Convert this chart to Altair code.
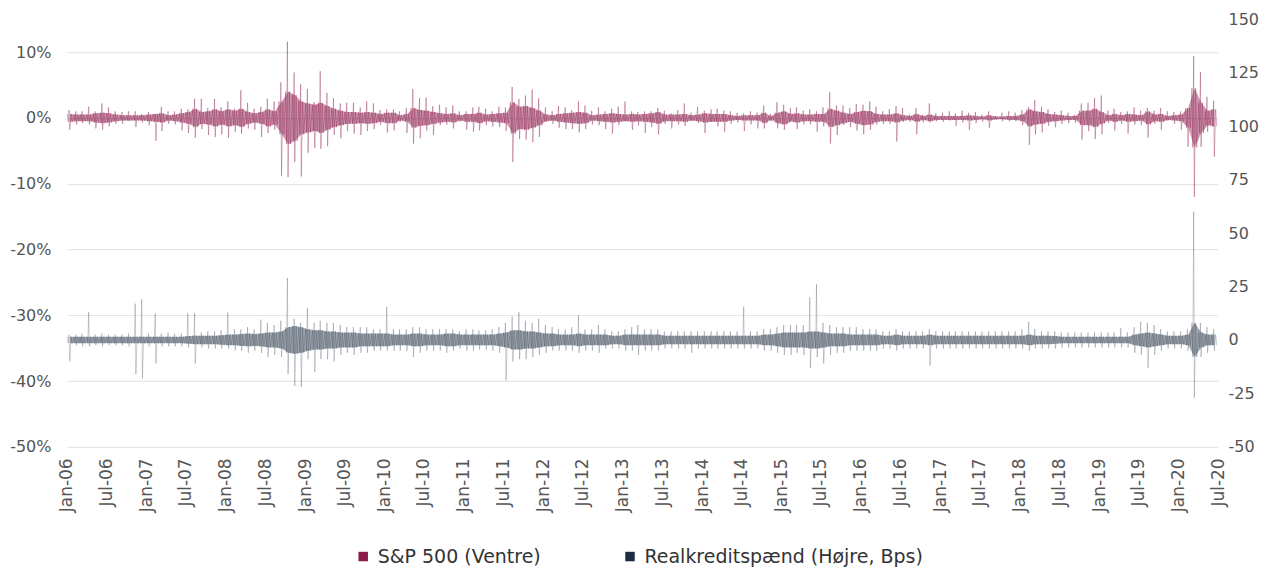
import altair as alt
import pandas as pd

# ---------------- data (monthly) ----------------
months = pd.date_range("2006-01-01", periods=174, freq="MS")  # Jan-06 .. Jun-20

# S&P 500 daily return, %: monthly highest, lowest and typical band amplitude
sp_hi = [
    1.2, 1.0, 1.0, 1.7, 1.0, 2.2, 1.6, 1.0, 0.9, 1.0, 1.0, 0.6,   # 2006
    0.9, 0.6, 1.7, 1.0, 1.0, 1.4, 1.3, 2.9, 2.9, 1.5, 2.9, 1.6,   # 2007
    2.5, 1.4, 4.2, 2.3, 1.4, 1.7, 2.9, 2.5, 5.4, 11.6, 6.9, 5.1,  # 2008
    4.4, 2.4, 7.1, 3.8, 3.0, 2.2, 2.3, 2.3, 1.6, 2.5, 2.2, 1.2,   # 2009
    1.3, 1.3, 1.0, 1.5, 4.4, 3.0, 3.1, 1.8, 2.0, 1.6, 1.9, 1.0,   # 2010
    1.0, 1.6, 1.7, 1.4, 1.0, 1.7, 1.6, 4.7, 2.9, 3.4, 4.3, 3.0,   # 2011
    1.6, 1.0, 1.8, 1.6, 1.2, 2.5, 1.9, 1.1, 1.6, 1.0, 1.4, 1.7,   # 2012
    2.5, 1.0, 0.9, 1.0, 1.0, 1.5, 1.1, 0.7, 1.2, 2.2, 0.8, 1.7,   # 2013
    1.1, 1.3, 1.4, 1.1, 1.0, 0.8, 0.7, 1.0, 0.8, 1.9, 0.6, 2.4,   # 2014
    2.0, 1.5, 1.6, 1.1, 1.3, 1.0, 1.6, 3.9, 1.9, 1.9, 1.5, 2.1,   # 2015
    2.0, 2.5, 1.7, 1.0, 1.3, 1.8, 1.5, 0.5, 1.5, 0.5, 2.2, 0.7,   # 2016
    0.8, 1.0, 0.7, 1.1, 0.8, 0.9, 0.5, 1.0, 0.3, 0.8, 1.0, 0.8,   # 2017
    1.2, 1.7, 2.7, 1.7, 1.3, 0.9, 1.1, 0.8, 0.5, 2.2, 2.3, 3.0,   # 2018
    3.4, 1.1, 1.4, 0.9, 1.0, 1.6, 1.1, 1.5, 1.1, 1.5, 1.0, 0.9,   # 2019
    1.0, 1.5, 9.4, 7.0, 3.2, 2.6,                                 # 2020
]
sp_lo = [
    -1.8, -1.0, -0.8, -1.0, -1.6, -1.8, -1.3, -0.9, -0.9, -0.5, -1.4, -0.7,
    -1.1, -3.5, -2.0, -0.9, -1.0, -1.9, -2.3, -3.0, -1.7, -2.6, -2.9, -2.5,
    -3.0, -2.1, -2.4, -1.6, -1.8, -2.9, -2.3, -1.8, -8.8, -9.0, -6.7, -8.9,
    -5.3, -4.6, -4.7, -4.3, -2.6, -3.1, -2.0, -2.4, -2.6, -2.0, -1.7, -1.0,
    -2.2, -1.9, -0.6, -2.3, -3.9, -3.1, -1.9, -2.6, -1.1, -1.0, -1.6, -0.6,
    -1.8, -2.1, -1.9, -1.1, -1.3, -1.4, -2.0, -6.7, -3.2, -3.3, -3.7, -2.9,
    -0.6, -0.9, -1.5, -1.7, -1.7, -2.2, -1.7, -1.0, -1.1, -1.7, -2.4, -1.1,
    -0.5, -1.8, -1.1, -2.3, -1.4, -2.5, -0.9, -1.6, -1.0, -1.2, -0.5, -0.8,
    -2.3, -0.6, -1.3, -2.1, -0.9, -0.7, -2.0, -1.0, -1.6, -1.6, -0.5, -1.6,
    -1.8, -0.4, -1.7, -1.0, -1.0, -2.1, -1.3, -3.9, -2.6, -1.1, -1.4, -1.9,
    -2.5, -1.8, -1.0, -0.9, -0.9, -3.6, -0.6, -0.6, -2.5, -0.7, -0.7, -0.5,
    -0.6, -0.4, -1.2, -0.7, -1.8, -0.8, -0.6, -1.5, -0.3, -0.5, -0.5, -0.5,
    -1.1, -4.1, -2.5, -2.2, -1.2, -1.4, -0.9, -0.8, -0.7, -3.3, -2.0, -3.2,
    -2.5, -0.8, -1.9, -0.9, -2.4, -1.0, -1.1, -3.0, -0.9, -1.8, -0.4, -0.9,
    -1.8, -4.4, -12.0, -4.4, -2.1, -5.9,
]
sp_core = [
    0.6, 0.5, 0.5, 0.5, 0.7, 0.8, 0.7, 0.5, 0.4, 0.4, 0.4, 0.4,
    0.5, 0.6, 0.7, 0.4, 0.5, 0.7, 0.9, 1.4, 0.9, 1.0, 1.3, 1.0,
    1.3, 1.1, 1.4, 0.9, 0.7, 0.9, 1.3, 1.0, 2.5, 4.0, 3.5, 2.5,
    2.2, 2.0, 2.3, 1.8, 1.4, 1.1, 0.9, 0.9, 0.8, 0.9, 0.8, 0.6,
    0.8, 0.8, 0.4, 0.6, 1.5, 1.2, 1.1, 0.9, 0.7, 0.6, 0.7, 0.4,
    0.6, 0.6, 0.8, 0.5, 0.6, 0.7, 0.8, 2.4, 1.7, 1.8, 1.5, 1.1,
    0.5, 0.4, 0.6, 0.7, 0.8, 0.9, 0.8, 0.4, 0.5, 0.6, 0.7, 0.6,
    0.5, 0.6, 0.5, 0.6, 0.7, 0.9, 0.5, 0.5, 0.5, 0.6, 0.4, 0.5,
    0.7, 0.6, 0.6, 0.6, 0.4, 0.3, 0.4, 0.4, 0.4, 0.8, 0.3, 0.8,
    1.0, 0.6, 0.7, 0.5, 0.5, 0.6, 0.6, 1.4, 1.1, 0.8, 0.6, 0.9,
    1.1, 1.0, 0.6, 0.5, 0.5, 0.7, 0.4, 0.3, 0.6, 0.3, 0.5, 0.3,
    0.3, 0.3, 0.3, 0.3, 0.4, 0.3, 0.2, 0.4, 0.2, 0.2, 0.3, 0.3,
    0.5, 1.3, 1.0, 0.9, 0.6, 0.5, 0.4, 0.3, 0.3, 1.1, 1.1, 1.4,
    0.9, 0.4, 0.6, 0.4, 0.6, 0.5, 0.4, 1.0, 0.5, 0.6, 0.3, 0.4,
    0.5, 1.5, 4.5, 2.3, 1.1, 1.3,
]

# Realkreditspaend daily change, bps: monthly highest, lowest and typical band
rk_hi = [
    2.5, 2.5, 3, 13, 2.5, 3, 2.5, 2.5, 2.5, 3, 17, 19,
    3, 12.5, 3, 3.5, 3, 3, 12.5, 12.5, 3.5, 4, 4, 4.5,
    12.8, 5, 5, 6, 5, 9.5, 8, 7, 9, 29, 10, 8,
    15, 8, 9, 8, 8, 7, 6, 6, 6, 6, 5, 5,
    15.5, 5, 5, 5, 6, 6, 5, 5, 5, 5, 5, 4,
    5, 5, 4.5, 4.5, 5, 6, 8, 11, 13, 9, 8, 10,
    7, 6, 5, 5, 6, 11.5, 5, 5, 7, 5, 4, 4,
    5, 6, 7, 5, 5, 5, 4, 4, 4, 4, 4, 4,
    4, 4, 4, 4, 4, 4, 15.5, 4, 4, 5, 5, 6,
    7, 7, 7, 7, 20, 26, 8, 7, 6, 6, 6, 6,
    5, 5, 5, 4, 4, 5, 4, 4, 4, 4, 5, 4,
    4, 4, 4, 4, 4, 4, 4, 4, 4, 4, 4, 4,
    5, 8.5, 5, 4, 4, 4, 3.5, 3.5, 3.5, 3.5, 3.5, 3.5,
    3.5, 3.5, 3.5, 5.5, 3.5, 6, 8.5, 8, 7, 5, 4, 4,
    4, 5, 60, 8, 6, 5,
]
rk_lo = [
    -10, -2.5, -3, -3, -2.5, -3, -2.5, -2.5, -2.5, -3, -16, -18,
    -3, -11, -3, -3, -3, -3, -3.5, -11, -3.5, -4, -4, -4,
    -4, -5, -5, -6, -5, -6, -8, -7, -8, -16, -21.5, -22,
    -9, -15, -9, -9, -10, -7, -6, -7, -6, -6, -5, -5,
    -5, -5, -5, -5, -8, -6, -5, -5, -5, -6, -5, -4,
    -5, -5, -4.5, -4.5, -5, -6, -19, -10, -9, -9, -8, -7,
    -6, -5, -5, -5, -5, -6, -5, -5, -6, -4, -4, -4,
    -5, -5, -7, -5, -5, -5, -4, -4, -4, -4, -6, -4,
    -4, -4, -4, -4, -4, -4, -4, -4, -4, -5, -5, -6,
    -7, -7, -6, -7, -13, -8, -11, -7, -6, -6, -5, -5,
    -5, -5, -5, -4, -4, -5, -4, -4, -4, -4, -12, -4,
    -4, -4, -4, -4, -4, -4, -4, -4, -4, -4, -4, -4,
    -4, -5, -4, -4, -4, -4, -3.5, -3.5, -3.5, -3.5, -3.5, -3.5,
    -3.5, -3.5, -3.5, -3.5, -3.5, -6, -7, -13, -7, -5, -4, -4,
    -4, -5, -27, -8, -6, -5,
]
rk_core = [
    1.5, 1.5, 1.5, 1.5, 1.5, 1.5, 1.5, 1.5, 1.5, 1.5, 1.5, 1.5,
    1.5, 1.5, 1.5, 1.5, 1.5, 1.5, 1.8, 2, 2, 2, 2, 2.2,
    2.5, 2.5, 2.8, 3, 2.8, 3, 3.5, 3.5, 4, 6, 6.5, 6,
    5, 4.5, 4.5, 4, 4, 3.5, 3.5, 3.5, 3, 3, 3, 3,
    3, 2.5, 2.5, 2.5, 3, 3, 2.5, 2.5, 2.5, 3, 3, 2.5,
    2.5, 2.5, 2.5, 2.5, 2.5, 3, 3.5, 4.5, 4.5, 4, 4, 3.5,
    3, 3, 2.5, 2.5, 2.5, 3, 2.5, 2.5, 2.5, 2.5, 2, 2,
    2.5, 2.5, 2.5, 2.5, 2.5, 2.5, 2, 2, 2, 2, 2, 2,
    2, 2, 2, 2, 2, 2, 2, 2, 2, 2.5, 2.5, 3,
    3.5, 3.5, 3.5, 3.5, 4, 4, 3.5, 3, 3, 3, 2.5, 2.5,
    2.5, 2.5, 2.5, 2, 2, 2.5, 2, 2, 2, 2, 2.5, 2,
    2, 2, 2, 2, 2, 2, 2, 2, 2, 2, 2, 2,
    2, 2.5, 2, 2, 2, 1.8, 1.5, 1.5, 1.5, 1.5, 1.5, 1.5,
    1.5, 1.5, 1.5, 1.5, 1.5, 2.5, 3, 3.5, 3, 2.5, 2, 2,
    2, 2.5, 8, 3.5, 2.5, 2.5,
]

SP_NAME = "S&P 500 (Ventre)"
RK_NAME = "Realkreditspænd (Højre, Bps)"
SP_COL = "#8b1a4b"
RK_COL = "#1c2b3f"

# ---------------- build tables ----------------
day_offsets = [2, 6, 10, 13, 19, 24]


def line_rows(hi, lo, core, scale):
    rows = []
    for i, m in enumerate(months):
        vals = [core[i], -core[i], hi[i], lo[i], core[i], -core[i]]
        for d, v in zip(day_offsets, vals):
            rows.append({"date": (m + pd.Timedelta(days=d)).strftime("%Y-%m-%d"), "v": v * scale})
    return pd.DataFrame(rows)


def band_rows(core, scale, name):
    rows = []
    for i, m in enumerate(months):
        rows.append({"date": (m + pd.Timedelta(days=14)).strftime("%Y-%m-%d"),
                     "lo": -core[i] * scale, "hi": core[i] * scale, "series": name})
    return pd.DataFrame(rows)


sp_line_df = line_rows(sp_hi, sp_lo, sp_core, 0.01)
rk_line_df = line_rows(rk_hi, rk_lo, rk_core, 1.0)
sp_band_df = band_rows(sp_core, 0.01, SP_NAME)
rk_band_df = band_rows(rk_core, 1.0, RK_NAME)

FONT = "DejaVu Sans"

x_enc = alt.X(
    "date:T",
    title=None,
    scale=alt.Scale(domain=[alt.DateTime(year=2006, month=1, date=1),
                            alt.DateTime(year=2020, month=7, date=1)]),
    axis=alt.Axis(
        format="%b-%y",
        tickCount=alt.TimeIntervalStep(interval="month", step=6),
        labelAngle=-90,
        labelAlign="right",
        labelBaseline="middle",
        labelPadding=11,
        labelFontSize=17,
        labelOverlap=False,
        labelFlush=False,
        grid=False,
        ticks=False,
        domain=False,
    ),
)

left_axis = alt.Axis(
    orient="left",
    values=[-0.5, -0.4, -0.3, -0.2, -0.1, 0, 0.1],
    format=".0%",
    labelExpr="replace(datum.label, '\u2212', '-')",
    grid=True,
    gridColor="#e6e6e6",
    gridWidth=1.2,
    ticks=False,
    domain=False,
    labelPadding=16,
)
right_axis = alt.Axis(
    orient="right",
    values=[-50, -25, 0, 25, 50, 75, 100, 125, 150],
    labelExpr="replace(datum.label, '\u2212', '-')",
    grid=False,
    ticks=False,
    domain=False,
    labelPadding=10,
)

color_enc = alt.Color(
    "series:N",
    scale=alt.Scale(domain=[SP_NAME, RK_NAME], range=[SP_COL, RK_COL]),
    legend=alt.Legend(
        orient="none",
        legendX=287,
        legendY=528,
        direction="horizontal",
        title=None,
        symbolType="square",
        symbolSize=90,
        symbolOpacity=1,
        symbolStrokeWidth=0,
        labelFontSize=19,
        labelColor="#333333",
        labelFont=FONT,
        labelLimit=0,
        labelOffset=5,
        columnPadding=79,
    ),
)

sp_scale = alt.Scale(domain=[-0.5, 0.15], nice=False, zero=False)
rk_scale = alt.Scale(domain=[-50, 150], nice=False, zero=False)

sp_band = alt.Chart(sp_band_df).mark_area(opacity=0.45).encode(
    x=x_enc,
    y=alt.Y("lo:Q", scale=sp_scale, axis=left_axis, title=None),
    y2="hi:Q",
    color=color_enc,
)
sp_line = alt.Chart(sp_line_df).mark_line(color=SP_COL, strokeWidth=0.9, opacity=0.4).encode(
    x=x_enc,
    y=alt.Y("v:Q", scale=sp_scale, axis=left_axis, title=None),
)
rk_band = alt.Chart(rk_band_df).mark_area(opacity=0.42).encode(
    x=x_enc,
    y=alt.Y("lo:Q", scale=rk_scale, axis=right_axis, title=None),
    y2="hi:Q",
    color=color_enc,
)
rk_line = alt.Chart(rk_line_df).mark_line(color=RK_COL, strokeWidth=0.9, opacity=0.26).encode(
    x=x_enc,
    y=alt.Y("v:Q", scale=rk_scale, axis=right_axis, title=None),
)

sp_layer = alt.layer(sp_line, sp_band)
rk_layer = alt.layer(rk_line, rk_band)

chart = (
    alt.layer(sp_layer, rk_layer)
    .resolve_scale(y="independent")
    .properties(width=1152, height=428,
                padding={"left": 1, "top": 3, "right": 0, "bottom": 0})
    .configure_view(stroke=None)
    .configure_axis(labelFont=FONT, labelFontSize=16, labelColor="#555555")
)

chart.save("out.html", embed_options={"renderer": "svg", "actions": False})
